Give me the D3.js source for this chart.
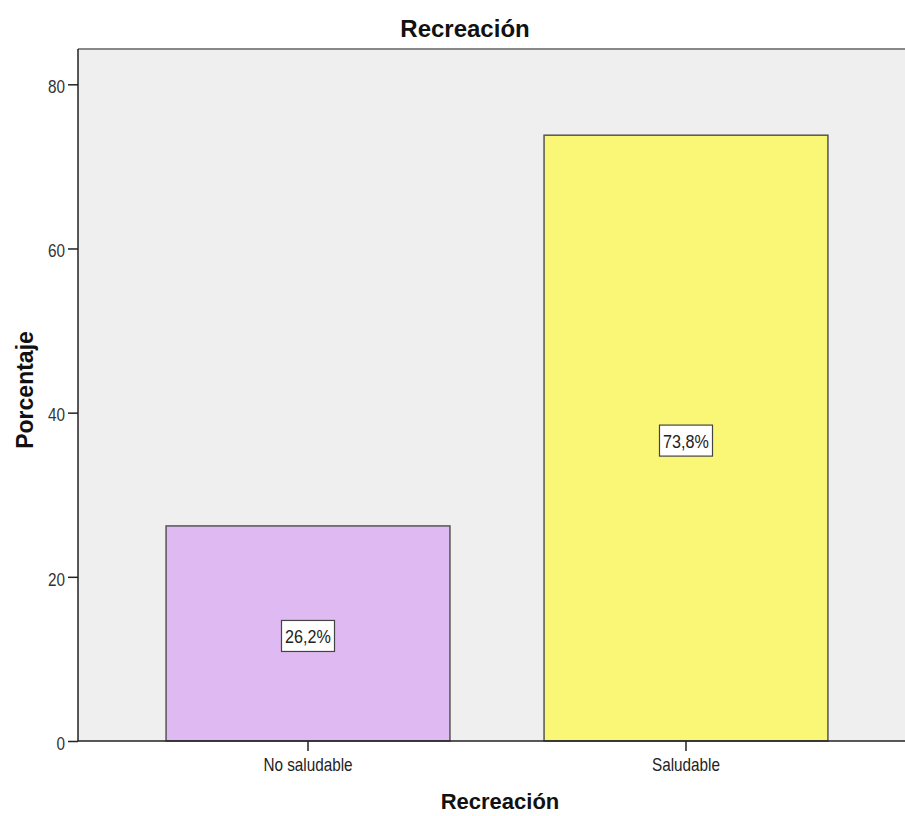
<!DOCTYPE html>
<html><head><meta charset="utf-8">
<script src="https://cdn.jsdelivr.net/npm/d3@7"></script>
<style>body{margin:0;background:#fff}svg{display:block}</style>
</head><body>
<svg id="c" width="905" height="816"></svg>
<script>
const categories = ["No saludable", "Saludable"];
const values = [26.2, 73.8];
const labels = ["26,2%", "73,8%"];
const colors = ["#dfb9f2", "#fbf776"];
const yTicks = [0, 20, 40, 60, 80];

const svg = d3.select("#c");
const pLeft = 78, pTop = 49, pBottom = 741, pRight = 916;
const font = "'Liberation Sans', Arial, sans-serif";
const SX = 0.85; // horizontal condensing of small text

function condense(sel) {
  sel.each(function () {
    const t = d3.select(this);
    const x0 = +(t.attr("x") || 0);
    t.attr("x", x0 / SX).attr("transform", `scale(${SX},1)`);
  });
}

const y = d3.scaleLinear().domain([0, 84.3]).range([pBottom, pTop]);
const x = d3.scaleBand().domain(categories).range([pLeft, pRight])
  .paddingInner(0.249).paddingOuter(0.233);

// plot background
svg.append("rect").attr("x", pLeft).attr("y", pTop)
  .attr("width", pRight - pLeft).attr("height", pBottom - pTop).attr("fill", "#efefef");
svg.append("line").attr("x1", pLeft).attr("x2", pRight).attr("y1", pTop).attr("y2", pTop)
  .attr("stroke", "#888").attr("stroke-width", 2);

// bars
svg.selectAll("rect.bar").data(categories).enter().append("rect")
  .attr("class", "bar")
  .attr("x", d => x(d)).attr("width", x.bandwidth())
  .attr("y", (d, i) => y(values[i])).attr("height", (d, i) => pBottom - y(values[i]))
  .attr("fill", (d, i) => colors[i]).attr("stroke", "#555").attr("stroke-width", 1.5);

// labels
categories.forEach((c, i) => {
  const cx = x(c) + x.bandwidth() / 2;
  const cy = (y(values[i]) + pBottom) / 2 + 2.5;
  const g = svg.append("g").attr("transform", `translate(${cx},${cy})`);
  g.append("rect").attr("x", -26.5).attr("y", -15.5).attr("width", 53).attr("height", 31)
    .attr("fill", "#fff").attr("stroke", "#444").attr("stroke-width", 1.2);
  g.append("text").attr("x", 0).attr("y", 7.5).attr("text-anchor", "middle")
    .attr("font-family", font).attr("font-size", 19).attr("fill", "#222").text(labels[i])
    .call(condense);
});

// y axis
const yAxis = svg.append("g").attr("transform", `translate(${pLeft},0)`)
  .call(d3.axisLeft(y).tickValues(yTicks).tickSize(10).tickPadding(3));
yAxis.select(".domain").attr("stroke", "#222").attr("stroke-width", 1.5).attr("d", `M0,${pTop}V${pBottom}`);
yAxis.selectAll(".tick line").attr("stroke", "#222").attr("stroke-width", 1.5);
yAxis.selectAll(".tick text").attr("font-family", font).attr("font-size", 18).attr("fill", "#333")
  .attr("dy", "0.46em").call(condense);

// x axis
const xAxis = svg.append("g").attr("transform", `translate(0,${pBottom})`)
  .call(d3.axisBottom(x).tickSize(10).tickPadding(7));
xAxis.select(".domain").attr("stroke", "#222").attr("stroke-width", 1.5).attr("d", `M${pLeft},0H${pRight}`);
xAxis.selectAll(".tick line").attr("stroke", "#222").attr("stroke-width", 1.5);
xAxis.selectAll(".tick text").attr("font-family", font).attr("font-size", 18).attr("fill", "#222")
  .call(condense);

// titles
svg.append("text").attr("x", 465).attr("y", 37).attr("text-anchor", "middle")
  .attr("font-family", font).attr("font-weight", "bold").attr("font-size", 24).attr("fill", "#111")
  .text("Recreación");
svg.append("text").attr("x", 500).attr("y", 809).attr("text-anchor", "middle")
  .attr("font-family", font).attr("font-weight", "bold").attr("font-size", 22).attr("fill", "#111")
  .text("Recreación");
svg.append("text").attr("transform", "translate(33,390) rotate(-90)").attr("text-anchor", "middle")
  .attr("font-family", font).attr("font-weight", "bold").attr("font-size", 23).attr("fill", "#111")
  .text("Porcentaje");
</script>
</body></html>
